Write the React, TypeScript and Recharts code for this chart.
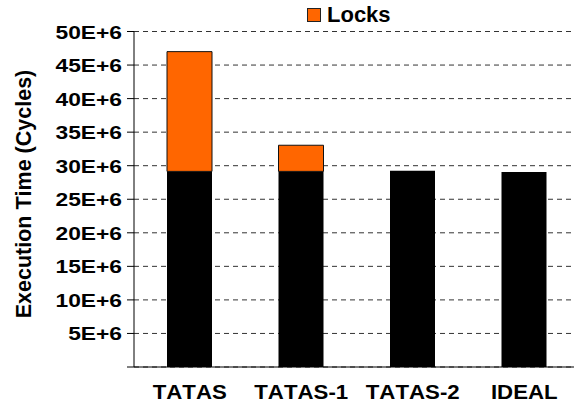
import { BarChart, Bar, XAxis, YAxis, CartesianGrid } from 'recharts';

const categories = ['TATAS', 'TATAS-1', 'TATAS-2', 'IDEAL'];
// values in millions of cycles
const baseValues = [29.15, 29.15, 29.25, 29.05];
const lockValues = [17.85, 3.9, 0, 0];
const yTicks = [0, 5, 10, 15, 20, 25, 30, 35, 40, 45, 50];
const edgeTicks = [0, 1, 2, 3, 4];

const data = categories.map((name, i) => ({ name, base: baseValues[i], locks: lockValues[i] }));

const FONT = '"Liberation Sans", Arial, sans-serif';

function YTick({ x, y, payload }: any) {
  if (payload.value === 0) return null;
  return (
    <g transform={`translate(${x},${y})`}>
      <text transform="scale(1.2,1)" textAnchor="end" dy={7} fontSize={19} fontWeight="bold" fontFamily={FONT} fill="#000" style={{ fontKerning: 'none' }}>
        {`${payload.value}E+6`}
      </text>
    </g>
  );
}

function XTick({ x, y, payload }: any) {
  return (
    <g transform={`translate(${x},${y + 30})`}>
      <text transform="scale(1.06,1)" textAnchor="middle" fontSize={21} fontWeight="bold" fontFamily={FONT} fill="#000" style={{ fontKerning: 'none' }}>
        {payload.value}
      </text>
    </g>
  );
}

export default function App() {
  return (
    <div style={{ position: 'absolute', left: 0, top: 0, width: 574, height: 403, overflow: 'hidden', background: '#fff' }}>
      <BarChart width={590} height={403} data={data} margin={{ top: 31.5, right: 10, bottom: 0, left: 0 }}>
        <CartesianGrid vertical={false} stroke="#333" strokeDasharray="5 4" />
        <XAxis xAxisId="edges" type="number" domain={[0, 4]} ticks={edgeTicks} allowDataOverflow
          height={0} tick={false} axisLine={false} tickSize={7} tickLine={{ stroke: '#000' }} />
        <XAxis xAxisId="cat" dataKey="name" height={36} tickSize={0} tickLine={false}
          axisLine={{ stroke: '#000' }} tick={<XTick />} interval={0} />
        <YAxis domain={[0, 50]} ticks={yTicks} width={134} tickSize={7} tickMargin={5}
          axisLine={{ stroke: '#000' }} tickLine={{ stroke: '#000' }} tick={<YTick />} interval={0}
          label={{
            content: () => (
              <text transform="translate(31,194) rotate(-90)" textAnchor="middle" fontSize={21.5} fontWeight="bold" fontFamily={FONT} fill="#000" style={{ fontKerning: 'none' }}>
                Execution Time (Cycles)
              </text>
            ),
          }} />
        <Bar xAxisId="cat" dataKey="base" stackId="a" fill="#000" barSize={45} isAnimationActive={false} />
        <Bar xAxisId="cat" dataKey="locks" stackId="a" fill="#FF6600" stroke="#111" strokeWidth={1} barSize={45} isAnimationActive={false} />
      </BarChart>
      <div style={{ position: 'absolute', left: 307, top: 4, display: 'flex', alignItems: 'center', fontFamily: FONT, fontWeight: 'bold', fontSize: 22, lineHeight: '22px', fontKerning: 'none' }}>
        <span style={{ width: 12, height: 12, background: '#FF6600', border: '1px solid #222', marginRight: 6 }} />
        <span>Locks</span>
      </div>
    </div>
  );
}
